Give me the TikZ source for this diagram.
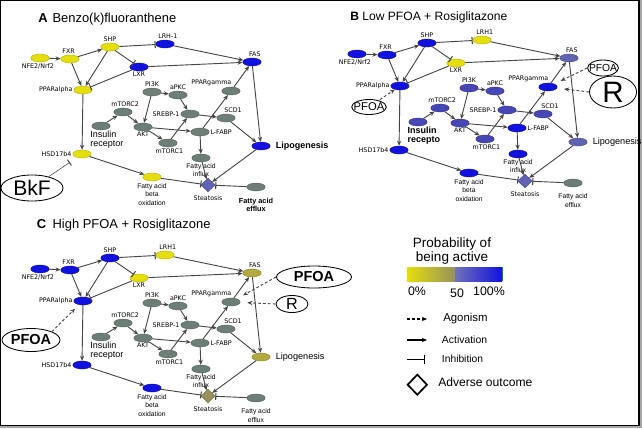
\documentclass[tikz,border=0pt]{standalone}
\usepackage{fontspec}
\setmainfont{Liberation Sans}
\newfontfamily\labfont{DejaVu Sans}
\usetikzlibrary{shapes.geometric,arrows.meta}

\definecolor{yel}{RGB}{228,222,12}
\definecolor{blu}{RGB}{18,18,222}
\definecolor{gry}{RGB}{108,126,118}
\definecolor{slt}{RGB}{98,98,178}
\definecolor{mid}{RGB}{70,70,180}
\definecolor{olv}{RGB}{176,170,62}
\definecolor{olg}{RGB}{150,146,92}
\definecolor{linec}{RGB}{70,70,70}

\tikzset{
  mol/.style={ellipse, fill=#1, draw=#1!80!black, line width=0.3pt, inner sep=0pt,
    minimum width=0.46cm, minimum height=0.2cm},
  outc/.style={diamond, fill=#1, draw=#1!80!black, line width=0.3pt, inner sep=0pt,
    minimum width=0.37cm, minimum height=0.34cm},
  lab/.style={font=\labfont\fontsize{4.5}{5}\selectfont, inner sep=0.6pt},
  twol/.style={font=\fontsize{4.8}{5.9}\selectfont, align=center, inner sep=0.6pt},
  insl/.style={font=\fontsize{6.4}{5.8}\selectfont, align=left, inner sep=0.6pt},
  lipl/.style={font=\fontsize{6.5}{7}\selectfont, inner sep=0.6pt},
  effl/.style={font=\fontsize{4.8}{5.9}\selectfont, align=center, inner sep=0.6pt},
  link/.style={draw=linec, line width=0.65pt},
  act/.style={link, -{Stealth[length=3.6pt,width=3pt]}},
  inh/.style={link, -{Bar[width=5pt,line width=0.75pt]}},
  ago/.style={link, dash pattern=on 2pt off 1.5pt, -{Stealth[length=3.6pt,width=3pt]}},
  drug/.style={ellipse, draw=black, line width=0.6pt, inner sep=0pt},
  ttl/.style={anchor=base west, inner sep=0pt},
  legt/.style={anchor=west, inner sep=0pt}
}

% #1 upstream, #2 LRH/LXR, #3 FAS/lipogenesis, #4 signalling, #5 PPARgamma/L-FABP/influx,
% #6 steatosis, #7 LRH label, #8 insulin receptor label
\newcommand\network[8]{%
  \node[mol=#1, label={[lab, xshift=-1.5pt]below:NFE2/Nrf2}] (nfe) at (40,58) {};
  \node[mol=#1, label={[lab, xshift=-1pt]above:FXR}] (fxr) at (70,59) {};
  \node[mol=#1, label={[lab]above:SHP}] (shp) at (110,47) {};
  \node[mol=#2, label={[lab, xshift=2pt]above:#7}] (lrh) at (165,44) {};
  \node[mol=#3, label={[lab, xshift=2pt]above:FAS}] (fas) at (252,62) {};
  \node[mol=#2, label={[lab]below:LXR}] (lxr) at (139,67) {};
  \node[mol=#1, label={[lab]left:PPARalpha}] (ppara) at (83,90) {};
  \node[mol=#4, label={[lab]above:PI3K}] (pik) at (152,92) {};
  \node[mol=#4, label={[lab]above:aPKC}] (apkc) at (178,95) {};
  \node[mol=#5, label={[lab, xshift=-14pt]above:PPARgamma}] (pparg) at (231,91) {};
  \node[mol=#4, label={[lab, xshift=1.5pt]above:mTORC2}] (mtorcii) at (123,112) {};
  \node[mol=#4, label={[lab]left:SREBP-1}] (srebp) at (190,114) {};
  \node[mol=#4, label={[lab, xshift=5pt]above:SCD1}] (scd) at (226,118) {};
  \node[mol=#4, label={[insl, xshift=4.2pt]below:#8}] (ins) at (101,126) {};
  \node[mol=#4, label={[lab]below:AKT}] (akt) at (143,127) {};
  \node[mol=#5, label={[lab]right:L-FABP}] (lfabp) at (200,132) {};
  \node[mol=#4, label={[lab, xshift=1pt]below:mTORC1}] (mtorci) at (168,143) {};
  \node[mol=#3, label={[lipl, xshift=3pt]right:Lipogenesis}] (lipo) at (261,146) {};
  \node[mol=#1, label={[lab]left:HSD17b4}] (hsd) at (82,154) {};
  \node[mol=#5, label={[twol]below:Fatty acid\\influx}] (influx) at (201,158) {};
  \node[mol=#1, label={[twol, yshift=-1pt]below:Fatty acid\\beta\\oxidation}] (betaox) at (152,177) {};
  \node[outc=#6, label={[lab, yshift=-2pt]below:Steatosis}] (steat) at (208,185) {};
  \node[mol=gry, label={[effl, yshift=-4pt]below:Fatty acid\\efflux}] (efflux) at (256,187) {};
  \foreach \a/\b in {nfe/fxr, fxr/shp, fxr/ppara, shp/ppara, lrh/fas, lxr/fas, pparg/fas,
    fas/lipo, ppara/hsd, hsd/betaox, pik/apkc, pik/akt, apkc/srebp, ins/mtorcii, mtorcii/akt,
    akt/mtorci, akt/lfabp, mtorci/srebp, srebp/scd, scd/lipo, lfabp/pparg, lfabp/influx,
    influx/steat, lipo/steat}
    \draw[act] (\a) -- (\b);
  \foreach \a/\b in {shp/lrh, shp/lxr, lxr/ppara, betaox/steat, efflux/steat}
    \draw[inh] (\a) -- (\b);
}

\begin{document}
\begin{tikzpicture}[x=0.025cm, y=-0.025cm]
\useasboundingbox (0,0) rectangle (642,428);
\fill[black!35] (0,0) rectangle (642,428);
\draw[fill=white, line width=1pt] (0.5,0.5) rectangle (639,425.5);

% A
\node[ttl, font=\fontsize{9.2}{11}\selectfont] (ttlA) at (38,22.5) {\textbf{A}\hspace{3.5pt}Benzo(k)fluoranthene};
\begin{scope}[name prefix=a-,
  lipl/.append style={font=\fontsize{6.4}{7}\selectfont\bfseries},
  effl/.append style={font=\fontsize{5.2}{6.2}\selectfont\bfseries}]
\network{yel}{blu}{blu}{gry}{gry}{slt}{LRH-1}{Insulin\\receptor}
\end{scope}
\node[drug, minimum width=1.55cm, minimum height=0.65cm, font=\fontsize{15}{15}\selectfont] (bkf) at (32,188) {BkF};
\draw[inh, line width=0.4pt, shorten >=6pt] (bkf) -- (a-hsd);

% B
\node[ttl, font=\fontsize{8.6}{10}\selectfont] (ttlB) at (350,20.7) {\textbf{B}\hspace{2.4pt}Low PFOA + Rosiglitazone};
\begin{scope}[shift={(317,-4)}, name prefix=b-,
  insl/.append style={font=\fontsize{6.4}{5.8}\selectfont\bfseries}]
\network{blu}{yel}{slt}{mid}{blu}{slt}{LRH1}{Insulin\\recepto}
\end{scope}
\node[drug, inner xsep=-2.2pt, minimum height=0.375cm, font=\fontsize{8}{8}\selectfont] (pfoaBl) at (369,107) {PFOA};
\node[drug, inner xsep=-2.2pt, minimum height=0.4cm, font=\fontsize{7.3}{8}\selectfont] (pfoaBr) at (603,68) {PFOA};
\node[drug, minimum width=1.175cm, minimum height=0.8cm, font=\fontsize{21}{21}\selectfont] (rB) at (613,92) {R};
\draw[ago, shorten <=1pt] (pfoaBl) -- (b-ppara);
\draw[ago, shorten >=5pt] (pfoaBr.west) -- (b-pparg);
\draw[ago, shorten >=5pt] (rB.west) -- (b-pparg);

% C
\node[ttl, font=\fontsize{9.2}{11}\selectfont] (ttlC) at (36.7,228) {\textbf{C}\hspace{4.5pt}High PFOA + Rosiglitazone};
\begin{scope}[shift={(0,211)}, name prefix=c-]
\network{blu}{yel}{olv}{gry}{gry}{olg}{LRH1}{Insulin\\receptor}
\end{scope}
\node[drug, minimum width=1.45cm, minimum height=0.575cm, font=\fontsize{10.3}{11}\selectfont\bfseries] (pfoaCl) at (31,340) {PFOA};
\node[drug, minimum width=1.875cm, minimum height=0.55cm, font=\fontsize{10.3}{11}\selectfont\bfseries] (pfoaCr) at (314,277) {PFOA};
\node[drug, minimum width=0.8cm, minimum height=0.425cm, font=\fontsize{11.5}{12}\selectfont] (rC) at (292,304) {R};
\draw[ago, shorten >=4pt] (pfoaCl.north east) -- (c-ppara);
\draw[ago, shorten >=5pt] (pfoaCr.west) -- (c-pparg);
\draw[ago, shorten >=5pt] (rC.west) -- (c-pparg);

% legend
\node[font=\fontsize{9.6}{8.8}\selectfont, align=center] (legTitle) at (452,251) {Probability of\\being active};
\shade[left color=yel, right color=olg] (407,267) rectangle (455,281);
\shade[left color=slt!90!white, right color=blu] (455,267) rectangle (502,281);
\draw[green!60!black, line width=0.6pt] (502,267) -- (502,281);
\node[font=\fontsize{8.8}{9}\selectfont] (leg0) at (417,291) {0\%};
\node[font=\fontsize{8.8}{9}\selectfont] (leg50) at (457,293) {50};
\node[font=\fontsize{8.8}{9}\selectfont] (leg100) at (489,291) {100\%};
\coordinate (agoS) at (407,319); \coordinate (agoE) at (427,319);
\coordinate (actS) at (407,340); \coordinate (actE) at (427,340);
\coordinate (inhS) at (407,359.5); \coordinate (inhE) at (425,359.5);
\draw[ago, draw=black, line width=0.9pt] (agoS) -- (agoE);
\draw[act, draw=black, line width=0.9pt] (actS) -- (actE);
\draw[inh, draw=black, line width=0.9pt, -{Bar[width=6.5pt,line width=0.9pt]}] (inhS) -- (inhE);
\node[legt, font=\fontsize{8.1}{9}\selectfont] (legAgo) at (443,319) {Agonism};
\node[legt, font=\fontsize{7.4}{9}\selectfont] (legAct) at (441.7,340) {Activation};
\node[legt, font=\fontsize{7.3}{9}\selectfont] (legInh) at (441.7,358.7) {Inhibition};
\node[diamond, draw, line width=1.2pt, inner sep=0pt, minimum width=0.5cm, minimum height=0.52cm] (legAdv) at (417.3,384.7) {};
\node[legt, font=\fontsize{8.6}{9}\selectfont] (legAdvT) at (438,382) {Adverse outcome};
\end{tikzpicture}
\end{document}
